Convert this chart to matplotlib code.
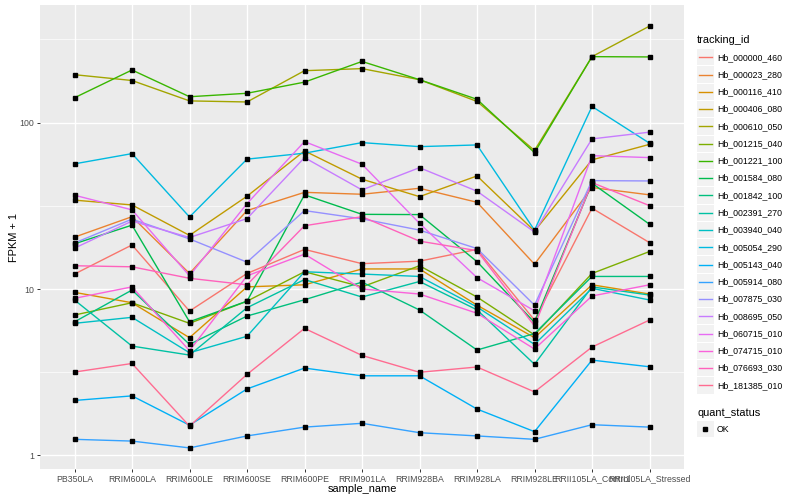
import matplotlib
matplotlib.use("Agg")
import matplotlib.pyplot as plt
from matplotlib.patches import Rectangle
from matplotlib.lines import Line2D

plt.rcParams['font.family'] = ['Liberation Sans', 'DejaVu Sans']

# muestras (eje x)
samples = ['PB350LA', 'RRIM600LA', 'RRIM600LE', 'RRIM600SE', 'RRIM600PE', 'RRIM901LA',
           'RRIM928BA', 'RRIM928LA', 'RRIM928LE', 'RRII105LA_Control', 'RRII105LA_Stressed']

tracking_ids = ['Hb_000000_460', 'Hb_000023_280', 'Hb_000116_410', 'Hb_000406_080',
                'Hb_000610_050', 'Hb_001215_040', 'Hb_001221_100', 'Hb_001584_080',
                'Hb_001842_100', 'Hb_002391_270', 'Hb_003940_040', 'Hb_005054_290',
                'Hb_005143_040', 'Hb_005914_080', 'Hb_007875_030', 'Hb_008695_050',
                'Hb_060715_010', 'Hb_074715_010', 'Hb_076693_030', 'Hb_181385_010']

# FPKM + 1 por gen
hb_000000_460 = [12.3, 18.4, 7.37, 12.4, 17.3, 14.2, 14.7, 17.3, 6.5, 30.6, 19.0]
hb_000023_280 = [20.5, 27.2, 12.4, 29.6, 38.1, 37.1, 40.3, 33.2, 14.1, 40.7, 36.8]
hb_000116_410 = [9.55, 8.27, 5.10, 10.3, 10.6, 13.2, 13.2, 8.0, 5.1, 10.6, 9.33]
hb_000406_080 = [34.2, 32.0, 21.0, 36.1, 67.6, 45.7, 35.9, 47.8, 22.3, 59.7, 74.0]
hb_000610_050 = [194, 179, 135, 133, 205, 211, 181, 134, 68, 249, 380]
hb_001215_040 = [6.98, 8.27, 6.22, 8.45, 12.7, 10.3, 13.8, 8.95, 5.3, 12.4, 16.8]
hb_001221_100 = [141, 207, 143, 150, 175, 233, 181, 138, 66, 249, 248]
hb_001584_080 = [18.7, 24.2, 6.36, 8.45, 36.8, 28.1, 28.0, 14.6, 6.3, 43.2, 24.5]
hb_001842_100 = [6.35, 9.86, 4.65, 6.88, 8.62, 11.0, 7.48, 4.30, 5.4, 11.9, 11.9]
hb_002391_270 = [8.59, 4.54, 4.01, 7.72, 11.4, 8.95, 11.1, 7.5, 3.53, 10.3, 9.2]
hb_003940_040 = [6.22, 6.76, 4.14, 5.2, 12.7, 12.3, 11.9, 7.8, 4.65, 10.1, 8.59]
hb_005054_290 = [56.5, 65.1, 27.1, 60.3, 65.5, 75.8, 71.7, 73.4, 22.6, 125, 75.2]
hb_005143_040 = [2.14, 2.28, 1.52, 2.51, 3.35, 3.01, 3.01, 1.90, 1.39, 3.74, 3.41]
hb_005914_080 = [1.25, 1.22, 1.11, 1.31, 1.48, 1.56, 1.37, 1.31, 1.25, 1.53, 1.48]
hb_007875_030 = [18.9, 26.3, 20.0, 14.5, 29.6, 26.4, 22.6, 17.5, 8.0, 44.8, 44.6]
hb_008695_050 = [17.6, 25.6, 20.4, 26.5, 61.6, 39.4, 53.6, 38.7, 22.0, 79.8, 87.6]
hb_060715_010 = [36.6, 29.9, 12.0, 32.6, 76.9, 56.2, 24.8, 11.7, 7.4, 63.3, 61.6]
hb_074715_010 = [8.79, 10.3, 4.26, 12.0, 16.2, 10.0, 9.33, 7.15, 4.36, 9.08, 10.6]
hb_076693_030 = [13.8, 13.6, 11.6, 10.6, 24.0, 27.2, 19.4, 17.0, 6.0, 43.6, 31.7]
hb_181385_010 = [3.17, 3.57, 1.50, 3.07, 5.80, 3.99, 3.16, 3.40, 2.41, 4.48, 6.51]

series = [hb_000000_460, hb_000023_280, hb_000116_410, hb_000406_080, hb_000610_050,
          hb_001215_040, hb_001221_100, hb_001584_080, hb_001842_100, hb_002391_270,
          hb_003940_040, hb_005054_290, hb_005143_040, hb_005914_080, hb_007875_030,
          hb_008695_050, hb_060715_010, hb_074715_010, hb_076693_030, hb_181385_010]

# paleta hue de ggplot para 20 niveles
colores = ['#F8766D', '#EA8331', '#D89000', '#C09B00', '#A3A500', '#7CAE00', '#39B600',
           '#00BB4E', '#00BF7D', '#00C1A3', '#00BFC4', '#00BAE0', '#00B0F6', '#35A2FF',
           '#9590FF', '#C77CFF', '#E76BF3', '#FA62DB', '#FF62BC', '#FF6C91']

W, H = 800, 500
fig = plt.figure(figsize=(8, 5), dpi=100)
ax = fig.add_axes([40 / W, 31 / H, 644 / W, 464 / H])
ax.set_facecolor('#EBEBEB')

x = list(range(len(samples)))
for vals, col in zip(series, colores):
    ax.plot(x, vals, color=col, lw=1.0, zorder=3)
for vals in series:
    ax.plot(x, vals, ls='none', marker='s', ms=2.2, color='black', zorder=4)

ax.set_yscale('log')
ax.margins(y=0.05)
ax.set_xlim(-0.6, len(samples) - 0.4)
ax.set_yticks([1, 10, 100])
ax.set_yticklabels(['1', '10', '100'])
ax.set_yticks([10 ** 0.5, 10 ** 1.5, 10 ** 2.5], minor=True)
ax.yaxis.set_minor_formatter(plt.NullFormatter())
ax.set_xticks(x)
ax.set_xticklabels(samples)

ax.grid(which='major', color='white', lw=1.0, zorder=1)
ax.grid(which='minor', axis='y', color='white', lw=0.5, zorder=1)
ax.set_axisbelow(True)
for s in ax.spines.values():
    s.set_visible(False)
ax.tick_params(which='major', length=2.5, width=0.7, color='#333333',
               labelsize=6.3, labelcolor='#4D4D4D', pad=1.5)
ax.tick_params(which='minor', length=0)

ax.set_xlabel('sample_name', fontsize=7.9, labelpad=0)
ax.set_ylabel('FPKM + 1', fontsize=7.9, labelpad=1)
ax.yaxis.set_label_coords(-(40 - 19) / 644, 0.5)


def fx(px):
    return px / W


def fy(py):
    return 1 - py / H


# leyenda tracking_id
fig.text(fx(697), fy(40), 'tracking_id', fontsize=7.9, va='center', ha='left')
paso = 17.27
for i, (tid, col) in enumerate(zip(tracking_ids, colores)):
    yc = 57.3 + i * paso
    fig.add_artist(Rectangle((fx(697), fy(yc + paso / 2 - 0.5)), 16.5 / W, (paso - 1) / H,
                             transform=fig.transFigure, facecolor='#F2F2F2', edgecolor='none'))
    fig.add_artist(Line2D([fx(699), fx(712)], [fy(yc), fy(yc)], color=col, lw=1.0,
                          transform=fig.transFigure))
    fig.text(fx(717), fy(yc), tid, fontsize=6.3, va='center', ha='left')

# leyenda quant_status
fig.text(fx(697), fy(413), 'quant_status', fontsize=7.9, va='center', ha='left')
fig.add_artist(Rectangle((fx(697), fy(429 + paso / 2 - 0.5)), 16.5 / W, (paso - 1) / H,
                         transform=fig.transFigure, facecolor='#F2F2F2', edgecolor='none'))
fig.add_artist(Line2D([fx(705.3)], [fy(429)], marker='s', ms=2.2, color='black',
                      ls='none', transform=fig.transFigure))
fig.text(fx(717), fy(429), 'OK', fontsize=6.3, va='center', ha='left')

fig.savefig('out.png', dpi=100)
